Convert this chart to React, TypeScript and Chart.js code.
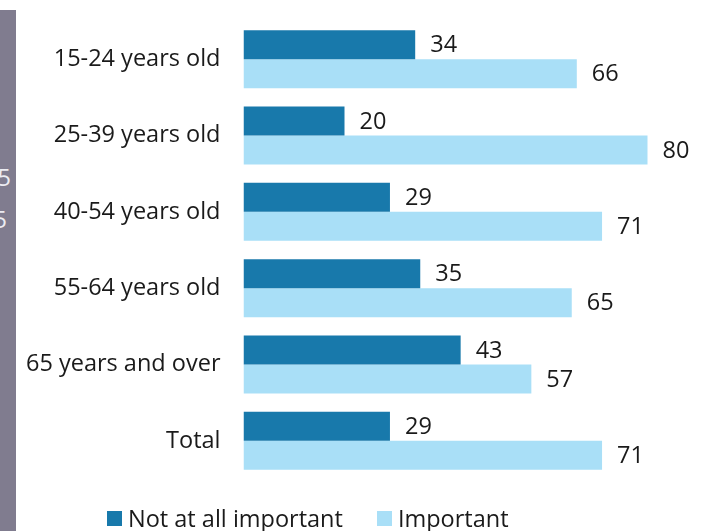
import React, { useEffect, useRef } from "react";
import { Chart, registerables } from "chart.js";

Chart.register(...registerables);

const categories = [
  "15-24 years old",
  "25-39 years old",
  "40-54 years old",
  "55-64 years old",
  "65 years and over",
  "Total",
];
const notAtAllImportant = [34, 20, 29, 35, 43, 29];
const important = [66, 80, 71, 65, 57, 71];
const seriesNames = ["Not at all important", "Important"];
const colors = ["#1879ab", "#a9dff7"];

const FONT = "'Open Sans', sans-serif";

const valueLabels = {
  id: "valueLabels",
  afterDatasetsDraw(chart: any) {
    const ctx = chart.ctx;
    ctx.save();
    ctx.font = `23.5px ${FONT}`;
    ctx.fillStyle = "#1a1a1a";
    ctx.textAlign = "left";
    ctx.textBaseline = "middle";
    chart.data.datasets.forEach((ds: any, di: number) => {
      const meta = chart.getDatasetMeta(di);
      meta.data.forEach((bar: any, i: number) => {
        ctx.fillText(String(ds.data[i]), bar.x + 15, bar.y + 1);
      });
    });
    ctx.restore();
  },
};

export default function App() {
  const ref = useRef<HTMLCanvasElement>(null);
  useEffect(() => {
    if (!ref.current) return;
    const chart = new Chart(ref.current, {
      type: "bar",
      data: {
        labels: categories,
        datasets: [
          { label: seriesNames[0], data: notAtAllImportant, backgroundColor: colors[0] },
          { label: seriesNames[1], data: important, backgroundColor: colors[1] },
        ],
      },
      options: {
        indexAxis: "y",
        responsive: false,
        animation: false,
        layout: { padding: { top: 21, bottom: 52, right: 18, left: 0 } },
        datasets: { bar: { categoryPercentage: 0.76, barPercentage: 1.0 } },
        plugins: {
          legend: { display: false },
          tooltip: { enabled: false },
        },
        scales: {
          x: { display: false, min: 0, max: 90 },
          y: {
            grid: { display: false, drawTicks: false },
            border: { display: false },
            ticks: {
              padding: 23,
              color: "#1a1a1a",
              font: { family: FONT, size: 23.5 },
            },
            afterFit: (scale: any) => {
              scale.width = 243.5;
              scale.paddingTop = 0;
              scale.paddingBottom = 0;
            },
          },
        },
      },
      plugins: [valueLabels],
    });
    return () => chart.destroy();
  }, []);

  return (
    <div style={{ position: "absolute", left: 0, top: 0, width: 716, height: 531, overflow: "hidden", background: "#fff" }}>
      <div style={{ position: "absolute", left: 0, top: 10, width: 16, height: 521, background: "#807c8f", overflow: "hidden" }}>
        <span style={{ position: "absolute", right: 5, top: 150, color: "#ececf2", font: `24px ${FONT}`, whiteSpace: "nowrap" }}>45</span>
        <span style={{ position: "absolute", right: 9, top: 192, color: "#ececf2", font: `24px ${FONT}`, whiteSpace: "nowrap" }}>55</span>
      </div>
      <canvas ref={ref} width={716} height={531} style={{ position: "absolute", left: 0, top: 0 }} />
      <div style={{ position: "absolute", left: 107, top: 502, display: "flex", alignItems: "center", font: `23.5px ${FONT}`, color: "#1a1a1a", whiteSpace: "nowrap" }}>
        <span style={{ width: 15, height: 15, background: colors[0], display: "inline-block", marginRight: 6 }} />
        <span style={{ marginRight: 34 }}>{seriesNames[0]}</span>
        <span style={{ width: 15, height: 15, background: colors[1], display: "inline-block", marginRight: 6 }} />
        <span>{seriesNames[1]}</span>
      </div>
    </div>
  );
}
